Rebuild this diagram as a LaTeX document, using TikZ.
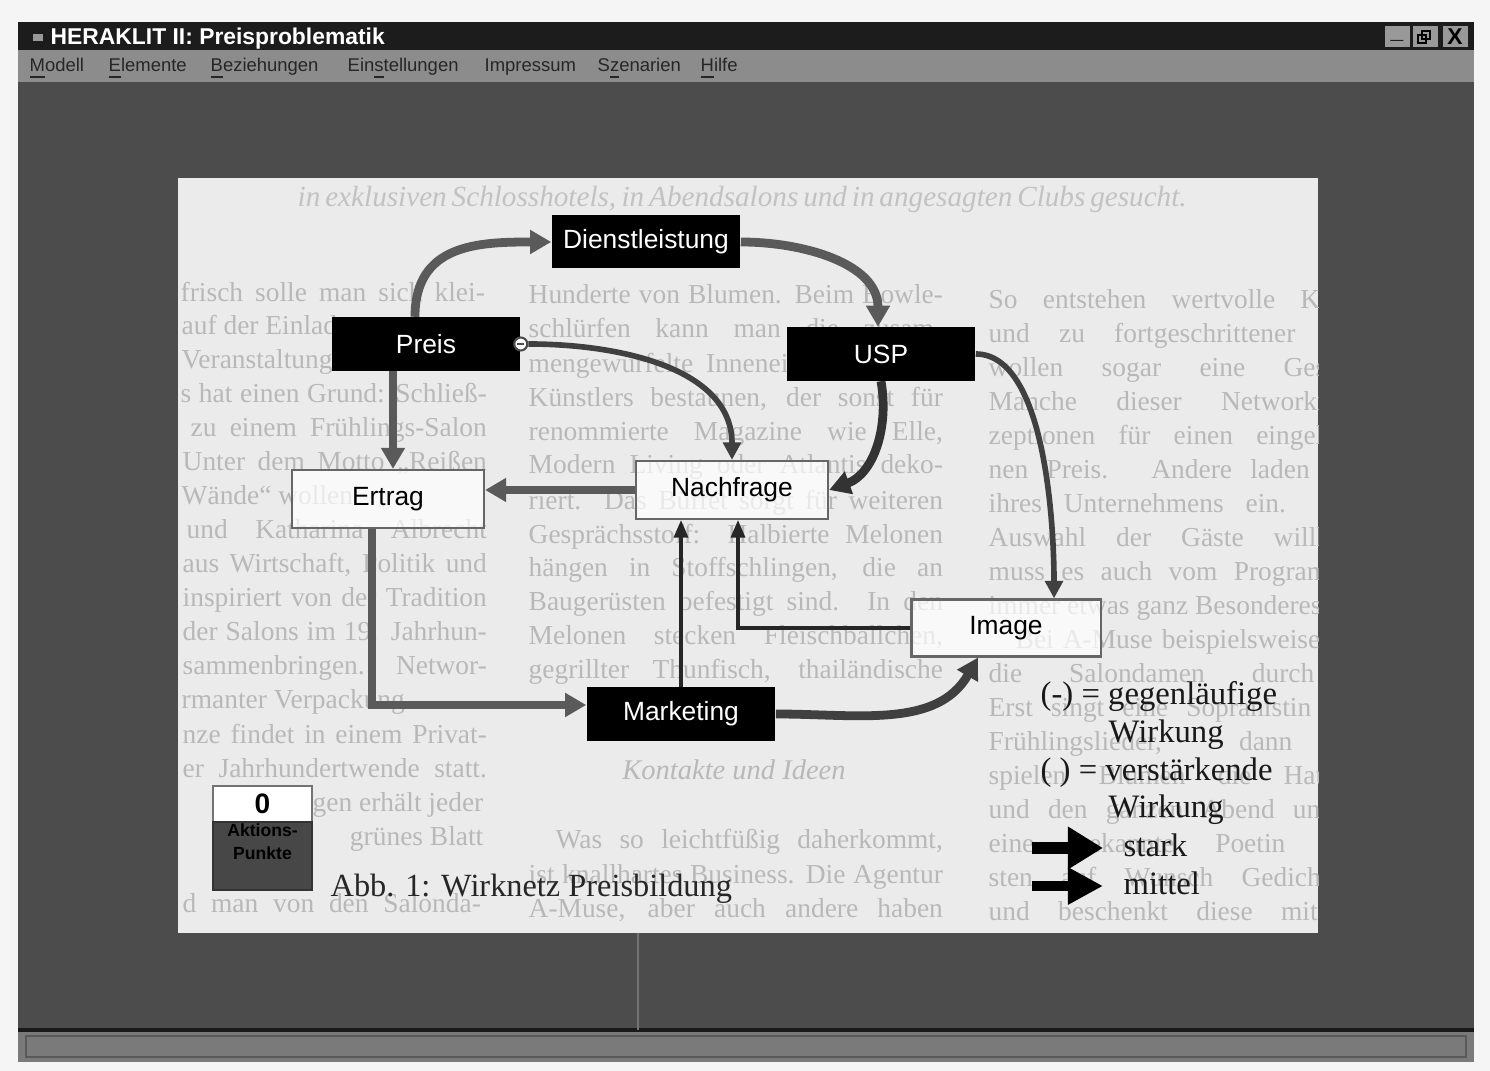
\documentclass[tikz,border=0pt]{standalone}
\usepackage{fontspec}
\setmainfont{Liberation Serif}
\setsansfont{Liberation Sans}
\usetikzlibrary{arrows.meta}
\definecolor{kantegrau}{HTML}{5A5A5A}
\definecolor{kantedunkel}{HTML}{404040}

\begin{document}
\begin{tikzpicture}[x=0.01cm, y=-0.01cm,
    kasten/.style={rectangle, inner sep=0pt, minimum width=1.88cm, minimum height=0.53cm,
        font=\sffamily\fontsize{7.5}{9}\selectfont},
    schwarz/.style={kasten, fill=black, text=white},
    weiss/.style={kasten, minimum width=1.92cm, minimum height=0.58cm, draw=black!60,
        line width=0.6pt, fill=white, fill opacity=0.7, text opacity=1},
    stark/.style={draw=kantegrau, line width=2.5pt, -{Triangle[length=6pt,width=6.5pt]}},
    mittel/.style={draw=kantedunkel, line width=1.6pt, -{Triangle[length=5pt,width=5pt]}},
    duenn/.style={draw=black!85, line width=0.9pt, -{Triangle[length=5pt,width=4pt]}},
    seite/.style={font=\fontsize{7.8}{9}\selectfont, text=black!28, inner sep=0pt, anchor=base west},
    menue/.style={font=\sffamily\fontsize{5.25}{6}\selectfont, text=black!85, inner sep=0pt, anchor=base west},
    knopf/.style={rectangle, fill=black!40, inner sep=0pt, minimum width=0.25cm, minimum height=0.21cm,
        font=\sffamily\bfseries\fontsize{6.5}{7}\selectfont},
    legende/.style={font=\fontsize{9.3}{11}\selectfont, text=black!90, inner sep=0pt, anchor=base west},
    legstark/.style={line width=3.4pt, -{Triangle[length=10pt,width=11.5pt]}},
    legmittel/.style={line width=2.6pt, -{Triangle[length=10pt,width=10pt]}}]
    \useasboundingbox (0,0) rectangle (1490,1071);
    \fill[black!4] (0,0) rectangle (1490,1071);

    % Fenster
    \fill[black!89] (18,22) rectangle (1474,50);
    \fill[black!45] (18,50) rectangle (1474,82);
    \fill[black!70] (18,82) rectangle (1474,1030);
    \fill[black!52] (18,1030) rectangle (1474,1062);
    \draw[black!90, line width=1pt] (18,1030) -- (1474,1030);
    \draw[black!65] (26,1036) rectangle (1466,1057);
    \draw[black!55, line width=0.4pt] (638,933) -- (638,1030);
    \fill[black!40] (33,34) rectangle (43,41);
    \node[font=\sffamily\bfseries\fontsize{6.5}{8}\selectfont, text=white, inner sep=0pt, anchor=base west]
        (titel) at (50,45) {HERAKLIT II: Preisproblematik};
    \node[knopf] (min) at (1397,37) {\raisebox{-0.5ex}{\_}};
    \node[knopf] (max) at (1425,37) {};
    \node[knopf] (zu) at (1455,37) {X};
    \draw[black, line width=0.5pt] ([shift={(-0.07cm,-0.06cm)}]max.center) rectangle ++(0.08cm,0.08cm);
    \draw[black, line width=0.5pt] ([shift={(-0.03cm,-0.02cm)}]max.center) rectangle ++(0.08cm,0.08cm);
    \foreach \x/\t [count=\i] in {29/{\underline{M}odell}, 108/{\underline{E}lemente},
        210/{\underline{B}eziehungen}, 347/{Ein\underline{s}tellungen}, 484/{Impressum},
        597/{S\underline{z}enarien}, 700/{\underline{H}ilfe}}
        \node[menue] (menue\i) at (\x,72) {\t};

    % Seite mit Text
    \fill[black!8] (178,178) rectangle (1318,933);
    \begin{scope}
        \clip (178,178) rectangle (1318,933);
        \node[seite, text=black!24, font=\itshape\fontsize{8.3}{10}\selectfont] (kopf) at (297,207)
            {\makebox[8.83cm][s]{in exklusiven Schlosshotels, in Abendsalons und in angesagten Clubs gesucht.}};
        % linke Spalte
        \foreach \y/\x/\w/\t [count=\i] in {295/180/3.04/{frisch solle man sich klei-},
            396/180/3.06/{s hat einen Grund: Schließ-}, 430/190/2.96/{zu einem Frühlings-Salon},
            464/182/3.04/{Unter dem Motto „Reißen}, 532/186/3.0/{und Katharina Albrecht},
            566/182/3.04/{aus Wirtschaft, Politik und}, 600/182/3.04/{inspiriert von der Tradition},
            634/182/3.04/{der Salons im 19. Jahrhun-}, 668/182/3.04/{sammenbringen. Networ-},
            737/182/3.04/{nze findet in einem Privat-}, 771/182/3.04/{er Jahrhundertwende statt.},
            906/182/2.98/{d man von den Salonda-}}
            \node[seite] (links\i) at (\x,\y+7) {\makebox[\w cm][s]{\t}};
        \foreach \y/\t [count=\i] in {328/{auf der Einladung}, 362/{Veranstaltung},
            498/{Wände“ wollen}, 702/{rmanter Verpackung}}
            \node[seite] (linksb\i) at (181,\y+7) {\t};
        \foreach \y/\t [count=\i] in {805/{wegen erhält jeder}, 839/{grünes Blatt}}
            \node[seite, anchor=base east] (linksc\i) at (484,\y+7) {\t};
        % mittlere Spalte
        \foreach \y/\t [count=\i] in {297/{Hunderte von Blumen. Beim Bowle-},
            331/{schlürfen kann man die zusam-}, 366/{mengewürfelte Inneneinrichtung des},
            400/{Künstlers bestaunen, der sonst für}, 434/{renommierte Magazine wie Elle,},
            467/{Modern Living oder Atlantis deko-}, 503/{riert. Das Büffet sorgt für weiteren},
            537/{Gesprächsstoff: Halbierte Melonen}, 570/{hängen in Stoffschlingen, die an},
            604/{Baugerüsten befestigt sind. In den}, 638/{Melonen stecken Fleischbällchen,},
            672/{gegrillter Thunfisch, thailändische}, 877/{ist knallhartes Business. Die Agentur},
            911/{A-Muse, aber auch andere haben}}
            \node[seite] (mitte\i) at (528,\y+7) {\makebox[4.14cm][s]{\t}};
        \node[seite] (mitteb) at (555,849) {\makebox[3.87cm][s]{Was so leichtfüßig daherkommt,}};
        \node[seite, anchor=base, font=\itshape\fontsize{8.1}{10}\selectfont] (zwischen) at (734,780)
            {Kontakte und Ideen};
        % rechte Spalte
        \foreach \y/\t [count=\i] in {302/{So entstehen wertvolle Kontakte},
            336/{und zu fortgeschrittener Stunde}, 370/{wollen sogar eine Geschäfts-},
            404/{Manche dieser Networking-Re-}, 438/{zeptionen für einen eingeladenen},
            472/{nen Preis. Andere laden in die}, 506/{ihres Unternehmens ein. Nicht},
            540/{Auswahl der Gäste willkürlich,}, 574/{muss es auch vom Programm her},
            676/{die Salondamen durch den}, 710/{Erst singt eine Sopranistin klassi-},
            744/{Frühlingslieder, dann eine}, 778/{spielen Blumen die Hauptrolle},
            812/{und den ganzen Abend und über}, 846/{eine bekannte Poetin dichtet},
            880/{sten auf Wunsch Gedichte ins}, 914/{und beschenkt diese mit einer}}
            \node[seite] (rechts\i) at (988,\y+7) {\makebox[4.12cm][s]{\t}};
        \node[seite] (rechtsb) at (988,615) {immer etwas ganz Besonderes sein.};
        \node[seite] (rechtsc) at (1015,649) {\makebox[3.85cm][s]{Bei A-Muse beispielsweise führen}};
    \end{scope}

    % Wirknetz
    \node[schwarz] (Dienstleistung) at (646,242) {Dienstleistung};
    \node[schwarz] (Preis) at (426,344) {Preis};
    \node[schwarz] (USP) at (881,354) {USP};
    \node[schwarz] (Marketing) at (681,714) {Marketing};
    \node[weiss] (Ertrag) at (388,499) {Ertrag};
    \node[weiss] (Nachfrage) at (732,490) {Nachfrage};
    \node[weiss, minimum width=1.89cm, minimum height=0.57cm] (Image) at (1006,628) {Image};

    \draw[stark] ([xshift=-0.11cm]Preis.north) to[out=90,in=180,looseness=1.2] (Dienstleistung.west);
    \draw[stark] (Dienstleistung.east) to[out=0,in=90] ([xshift=-0.03cm]USP.north);
    \node[circle, draw=black!70, fill=white, line width=0.6pt, inner sep=0pt, minimum size=0.13cm]
        (minus) at (Preis.east) {};
    \draw[black!70, line width=0.5pt] ([xshift=-0.035cm]minus.center) -- ([xshift=0.035cm]minus.center);
    \draw[mittel] (minus.east) to[out=0,in=90] (Nachfrage.north);
    \draw[stark, draw=black!80] (USP.south) to[out=-80,in=20] (Nachfrage.east);
    \draw[mittel] (USP.east) to[out=0,in=90,looseness=0.7] ([xshift=0.48cm]Image.north);
    \draw[duenn] (Image.west) -| ([xshift=0.06cm]Nachfrage.south);
    \draw[duenn] (Marketing.north) -- (Marketing.north |- Nachfrage.south);
    \draw[stark] (Nachfrage.west) -- (Nachfrage.west -| Ertrag.east);
    \draw[stark] ([xshift=0.05cm]Ertrag.north |- Preis.south) -- ([xshift=0.05cm]Ertrag.north);
    \draw[stark] ([xshift=-0.16cm]Ertrag.south) |- ([yshift=0.09cm]Marketing.west);
    \draw[stark, draw=black!75] (Marketing.east) to[out=0,in=-120] ([xshift=-0.28cm]Image.south);

    % Aktionspunkte
    \node[draw=black!55, fill=white, line width=0.8pt, minimum width=0.99cm, minimum height=0.36cm,
        inner sep=0pt, font=\sffamily\bfseries\fontsize{8}{9}\selectfont] (zaehler) at (262.5,804) {0};
    \node[fill=black!72, draw=black!80, minimum width=0.99cm, minimum height=0.68cm, inner sep=0pt]
        (aktion) at (262.5,856) {};
    \node[align=center, inner sep=0pt, font=\sffamily\bfseries\fontsize{5}{6.5}\selectfont, text=black]
        (aktiontext) at (262.5,842) {Aktions-\\Punkte};

    % Bildunterschrift und Legende
    \node[legende, font=\fontsize{9.2}{11}\selectfont, text=black!85] (abb) at (330,897)
        {Abb. 1: Wirknetz Preisbildung};
    \node[legende] (gegen) at (1040,705) {(-) = gegenläufige};
    \node[legende] (wirk1) at (1108,743) {Wirkung};
    \node[legende] (verst) at (1040,781) {( ) = verstärkende};
    \node[legende] (wirk2) at (1108,818) {Wirkung};
    \node[legende] (stark) at (1123,857) {stark};
    \node[legende] (mittel) at (1123,895) {mittel};
    \coordinate (s0) at (1032,848);
    \coordinate (m0) at (1032,886);
    \draw[legstark] (s0) -- (s0 -| 1103,0);
    \draw[legmittel] (m0) -- (m0 -| 1103,0);
\end{tikzpicture}
\end{document}
